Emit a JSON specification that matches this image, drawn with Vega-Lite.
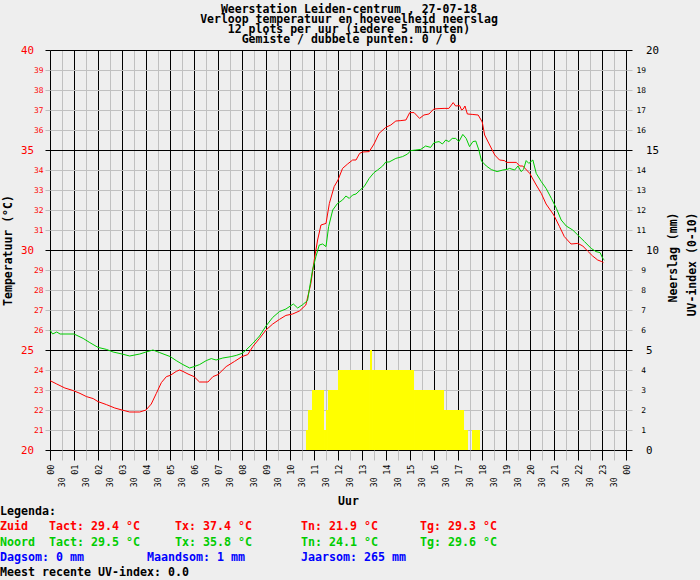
{
  "$schema": "https://vega.github.io/schema/vega-lite/v6.json",
  "background": "#eeeeee",
  "autosize": "none",
  "padding": {"left": 50, "top": 50, "right": 74, "bottom": 130},
  "width": 576,
  "height": 400,
  "title": {
    "text": ["Weerstation Leiden-centrum , 27-07-18", "Verloop temperatuur en hoeveelheid neerslag", "12 plots per uur (iedere 5 minuten)", "Gemiste / dubbele punten: 0 / 0"],
    "font": "DejaVu Sans Mono",
    "fontSize": 11.5,
    "fontWeight": "bold",
    "color": "#000000",
    "lineHeight": 10,
    "anchor": "middle",
    "offset": 0,
    "dx": 11,
    "dy": 1
  },
  "datasets": {
    "uv": [
      {"van": 10.667, "tot": 10.75, "uv": 1},
      {"van": 10.75, "tot": 10.917, "uv": 2},
      {"van": 10.917, "tot": 11.417, "uv": 3},
      {"van": 11.417, "tot": 11.5, "uv": 1},
      {"van": 11.5, "tot": 11.583, "uv": 2},
      {"van": 11.583, "tot": 12, "uv": 3},
      {"van": 12, "tot": 13.333, "uv": 4},
      {"van": 13.333, "tot": 13.417, "uv": 5},
      {"van": 13.417, "tot": 15.167, "uv": 4},
      {"van": 15.167, "tot": 16.417, "uv": 3},
      {"van": 16.417, "tot": 17.25, "uv": 2},
      {"van": 17.25, "tot": 17.417, "uv": 1},
      {"van": 17.583, "tot": 17.917, "uv": 1}
    ],
    "temp": [
      {"uur": 0.00, "temp": 23.47, "station": "Zuid"},
      {"uur": 0.28, "temp": 23.3, "station": "Zuid"},
      {"uur": 0.62, "temp": 23.1, "station": "Zuid"},
      {"uur": 0.97, "temp": 22.97, "station": "Zuid"},
      {"uur": 1.25, "temp": 22.83, "station": "Zuid"},
      {"uur": 1.52, "temp": 22.67, "station": "Zuid"},
      {"uur": 1.80, "temp": 22.57, "station": "Zuid"},
      {"uur": 2.00, "temp": 22.42, "station": "Zuid"},
      {"uur": 2.35, "temp": 22.27, "station": "Zuid"},
      {"uur": 2.70, "temp": 22.1, "station": "Zuid"},
      {"uur": 3.00, "temp": 22.0, "station": "Zuid"},
      {"uur": 3.32, "temp": 21.9, "station": "Zuid"},
      {"uur": 3.74, "temp": 21.9, "station": "Zuid"},
      {"uur": 4.00, "temp": 22.0, "station": "Zuid"},
      {"uur": 4.22, "temp": 22.3, "station": "Zuid"},
      {"uur": 4.43, "temp": 22.83, "station": "Zuid"},
      {"uur": 4.64, "temp": 23.37, "station": "Zuid"},
      {"uur": 4.85, "temp": 23.67, "station": "Zuid"},
      {"uur": 5.01, "temp": 23.73, "station": "Zuid"},
      {"uur": 5.26, "temp": 23.93, "station": "Zuid"},
      {"uur": 5.40, "temp": 24.0, "station": "Zuid"},
      {"uur": 5.54, "temp": 23.93, "station": "Zuid"},
      {"uur": 5.75, "temp": 23.8, "station": "Zuid"},
      {"uur": 6.00, "temp": 23.67, "station": "Zuid"},
      {"uur": 6.23, "temp": 23.4, "station": "Zuid"},
      {"uur": 6.58, "temp": 23.4, "station": "Zuid"},
      {"uur": 6.79, "temp": 23.67, "station": "Zuid"},
      {"uur": 7.00, "temp": 23.77, "station": "Zuid"},
      {"uur": 7.34, "temp": 24.17, "station": "Zuid"},
      {"uur": 7.69, "temp": 24.43, "station": "Zuid"},
      {"uur": 8.00, "temp": 24.67, "station": "Zuid"},
      {"uur": 8.24, "temp": 24.77, "station": "Zuid"},
      {"uur": 8.45, "temp": 25.17, "station": "Zuid"},
      {"uur": 8.73, "temp": 25.58, "station": "Zuid"},
      {"uur": 9.00, "temp": 26.0, "station": "Zuid"},
      {"uur": 9.28, "temp": 26.3, "station": "Zuid"},
      {"uur": 9.56, "temp": 26.53, "station": "Zuid"},
      {"uur": 9.83, "temp": 26.73, "station": "Zuid"},
      {"uur": 10.11, "temp": 26.8, "station": "Zuid"},
      {"uur": 10.39, "temp": 26.95, "station": "Zuid"},
      {"uur": 10.66, "temp": 27.25, "station": "Zuid"},
      {"uur": 10.87, "temp": 28.33, "station": "Zuid"},
      {"uur": 11.01, "temp": 29.5, "station": "Zuid"},
      {"uur": 11.15, "temp": 30.5, "station": "Zuid"},
      {"uur": 11.29, "temp": 31.25, "station": "Zuid"},
      {"uur": 11.50, "temp": 31.33, "station": "Zuid"},
      {"uur": 11.64, "temp": 32.33, "station": "Zuid"},
      {"uur": 11.84, "temp": 33.17, "station": "Zuid"},
      {"uur": 12.00, "temp": 33.5, "station": "Zuid"},
      {"uur": 12.19, "temp": 34.08, "station": "Zuid"},
      {"uur": 12.40, "temp": 34.3, "station": "Zuid"},
      {"uur": 12.61, "temp": 34.5, "station": "Zuid"},
      {"uur": 12.75, "temp": 34.5, "station": "Zuid"},
      {"uur": 12.90, "temp": 34.83, "station": "Zuid"},
      {"uur": 13.02, "temp": 34.9, "station": "Zuid"},
      {"uur": 13.30, "temp": 34.92, "station": "Zuid"},
      {"uur": 13.50, "temp": 35.3, "station": "Zuid"},
      {"uur": 13.71, "temp": 35.83, "station": "Zuid"},
      {"uur": 13.99, "temp": 36.13, "station": "Zuid"},
      {"uur": 14.20, "temp": 36.25, "station": "Zuid"},
      {"uur": 14.41, "temp": 36.45, "station": "Zuid"},
      {"uur": 14.62, "temp": 36.47, "station": "Zuid"},
      {"uur": 14.83, "temp": 36.5, "station": "Zuid"},
      {"uur": 14.99, "temp": 36.87, "station": "Zuid"},
      {"uur": 15.17, "temp": 36.87, "station": "Zuid"},
      {"uur": 15.40, "temp": 36.58, "station": "Zuid"},
      {"uur": 15.58, "temp": 36.75, "station": "Zuid"},
      {"uur": 15.79, "temp": 36.8, "station": "Zuid"},
      {"uur": 15.99, "temp": 37.05, "station": "Zuid"},
      {"uur": 16.21, "temp": 37.07, "station": "Zuid"},
      {"uur": 16.42, "temp": 37.08, "station": "Zuid"},
      {"uur": 16.62, "temp": 37.08, "station": "Zuid"},
      {"uur": 16.80, "temp": 37.37, "station": "Zuid"},
      {"uur": 16.90, "temp": 37.2, "station": "Zuid"},
      {"uur": 17.07, "temp": 37.22, "station": "Zuid"},
      {"uur": 17.15, "temp": 37.0, "station": "Zuid"},
      {"uur": 17.22, "temp": 37.05, "station": "Zuid"},
      {"uur": 17.29, "temp": 37.2, "station": "Zuid"},
      {"uur": 17.39, "temp": 36.8, "station": "Zuid"},
      {"uur": 17.59, "temp": 36.78, "station": "Zuid"},
      {"uur": 17.84, "temp": 36.75, "station": "Zuid"},
      {"uur": 18.01, "temp": 36.4, "station": "Zuid"},
      {"uur": 18.11, "temp": 35.75, "station": "Zuid"},
      {"uur": 18.32, "temp": 35.25, "station": "Zuid"},
      {"uur": 18.53, "temp": 34.75, "station": "Zuid"},
      {"uur": 18.73, "temp": 34.5, "station": "Zuid"},
      {"uur": 18.94, "temp": 34.47, "station": "Zuid"},
      {"uur": 19.01, "temp": 34.38, "station": "Zuid"},
      {"uur": 19.43, "temp": 34.38, "station": "Zuid"},
      {"uur": 19.57, "temp": 34.2, "station": "Zuid"},
      {"uur": 19.70, "temp": 34.2, "station": "Zuid"},
      {"uur": 19.99, "temp": 33.83, "station": "Zuid"},
      {"uur": 20.26, "temp": 33.25, "station": "Zuid"},
      {"uur": 20.47, "temp": 32.83, "station": "Zuid"},
      {"uur": 20.67, "temp": 32.3, "station": "Zuid"},
      {"uur": 20.99, "temp": 31.75, "station": "Zuid"},
      {"uur": 21.23, "temp": 31.17, "station": "Zuid"},
      {"uur": 21.43, "temp": 30.67, "station": "Zuid"},
      {"uur": 21.71, "temp": 30.3, "station": "Zuid"},
      {"uur": 21.99, "temp": 30.33, "station": "Zuid"},
      {"uur": 22.20, "temp": 30.2, "station": "Zuid"},
      {"uur": 22.40, "temp": 29.95, "station": "Zuid"},
      {"uur": 22.61, "temp": 29.7, "station": "Zuid"},
      {"uur": 22.82, "temp": 29.5, "station": "Zuid"},
      {"uur": 22.99, "temp": 29.42, "station": "Zuid"},
      {"uur": 23.06, "temp": 29.37, "station": "Zuid"},
      {"uur": 0.00, "temp": 26.0, "station": "Noord"},
      {"uur": 0.11, "temp": 25.8, "station": "Noord"},
      {"uur": 0.28, "temp": 25.9, "station": "Noord"},
      {"uur": 0.42, "temp": 25.8, "station": "Noord"},
      {"uur": 1.00, "temp": 25.8, "station": "Noord"},
      {"uur": 1.38, "temp": 25.58, "station": "Noord"},
      {"uur": 1.66, "temp": 25.37, "station": "Noord"},
      {"uur": 2.00, "temp": 25.13, "station": "Noord"},
      {"uur": 2.35, "temp": 25.03, "station": "Noord"},
      {"uur": 2.63, "temp": 24.9, "station": "Noord"},
      {"uur": 3.00, "temp": 24.8, "station": "Noord"},
      {"uur": 3.32, "temp": 24.7, "station": "Noord"},
      {"uur": 3.74, "temp": 24.8, "station": "Noord"},
      {"uur": 4.00, "temp": 24.9, "station": "Noord"},
      {"uur": 4.29, "temp": 25.0, "station": "Noord"},
      {"uur": 4.57, "temp": 24.87, "station": "Noord"},
      {"uur": 5.01, "temp": 24.67, "station": "Noord"},
      {"uur": 5.26, "temp": 24.47, "station": "Noord"},
      {"uur": 5.54, "temp": 24.27, "station": "Noord"},
      {"uur": 5.82, "temp": 24.1, "station": "Noord"},
      {"uur": 6.00, "temp": 24.17, "station": "Noord"},
      {"uur": 6.23, "temp": 24.27, "station": "Noord"},
      {"uur": 6.51, "temp": 24.47, "station": "Noord"},
      {"uur": 6.72, "temp": 24.57, "station": "Noord"},
      {"uur": 6.92, "temp": 24.5, "station": "Noord"},
      {"uur": 7.20, "temp": 24.6, "station": "Noord"},
      {"uur": 7.55, "temp": 24.67, "station": "Noord"},
      {"uur": 7.76, "temp": 24.73, "station": "Noord"},
      {"uur": 8.00, "temp": 24.83, "station": "Noord"},
      {"uur": 8.17, "temp": 25.0, "station": "Noord"},
      {"uur": 8.45, "temp": 25.33, "station": "Noord"},
      {"uur": 8.73, "temp": 25.7, "station": "Noord"},
      {"uur": 9.00, "temp": 26.2, "station": "Noord"},
      {"uur": 9.28, "temp": 26.63, "station": "Noord"},
      {"uur": 9.56, "temp": 26.92, "station": "Noord"},
      {"uur": 9.83, "temp": 27.05, "station": "Noord"},
      {"uur": 10.14, "temp": 27.3, "station": "Noord"},
      {"uur": 10.32, "temp": 27.1, "station": "Noord"},
      {"uur": 10.53, "temp": 27.27, "station": "Noord"},
      {"uur": 10.73, "temp": 27.47, "station": "Noord"},
      {"uur": 10.87, "temp": 28.5, "station": "Noord"},
      {"uur": 10.94, "temp": 29.0, "station": "Noord"},
      {"uur": 11.08, "temp": 29.67, "station": "Noord"},
      {"uur": 11.22, "temp": 30.25, "station": "Noord"},
      {"uur": 11.36, "temp": 30.3, "station": "Noord"},
      {"uur": 11.50, "temp": 30.17, "station": "Noord"},
      {"uur": 11.61, "temp": 31.17, "station": "Noord"},
      {"uur": 11.78, "temp": 32.0, "station": "Noord"},
      {"uur": 11.98, "temp": 32.33, "station": "Noord"},
      {"uur": 12.19, "temp": 32.5, "station": "Noord"},
      {"uur": 12.33, "temp": 32.7, "station": "Noord"},
      {"uur": 12.47, "temp": 32.58, "station": "Noord"},
      {"uur": 12.61, "temp": 32.75, "station": "Noord"},
      {"uur": 12.75, "temp": 32.8, "station": "Noord"},
      {"uur": 12.95, "temp": 33.03, "station": "Noord"},
      {"uur": 13.09, "temp": 33.17, "station": "Noord"},
      {"uur": 13.30, "temp": 33.58, "station": "Noord"},
      {"uur": 13.50, "temp": 33.87, "station": "Noord"},
      {"uur": 13.65, "temp": 34.0, "station": "Noord"},
      {"uur": 13.86, "temp": 34.2, "station": "Noord"},
      {"uur": 13.99, "temp": 34.4, "station": "Noord"},
      {"uur": 14.13, "temp": 34.4, "station": "Noord"},
      {"uur": 14.41, "temp": 34.58, "station": "Noord"},
      {"uur": 14.69, "temp": 34.67, "station": "Noord"},
      {"uur": 14.90, "temp": 34.8, "station": "Noord"},
      {"uur": 15.03, "temp": 34.97, "station": "Noord"},
      {"uur": 15.24, "temp": 35.0, "station": "Noord"},
      {"uur": 15.45, "temp": 35.03, "station": "Noord"},
      {"uur": 15.65, "temp": 35.2, "station": "Noord"},
      {"uur": 15.86, "temp": 35.13, "station": "Noord"},
      {"uur": 16.00, "temp": 35.37, "station": "Noord"},
      {"uur": 16.21, "temp": 35.42, "station": "Noord"},
      {"uur": 16.35, "temp": 35.3, "station": "Noord"},
      {"uur": 16.49, "temp": 35.5, "station": "Noord"},
      {"uur": 16.62, "temp": 35.42, "station": "Noord"},
      {"uur": 16.76, "temp": 35.58, "station": "Noord"},
      {"uur": 16.90, "temp": 35.58, "station": "Noord"},
      {"uur": 17.04, "temp": 35.42, "station": "Noord"},
      {"uur": 17.20, "temp": 35.78, "station": "Noord"},
      {"uur": 17.34, "temp": 35.58, "station": "Noord"},
      {"uur": 17.48, "temp": 35.17, "station": "Noord"},
      {"uur": 17.62, "temp": 35.42, "station": "Noord"},
      {"uur": 17.74, "temp": 35.45, "station": "Noord"},
      {"uur": 17.87, "temp": 35.0, "station": "Noord"},
      {"uur": 17.98, "temp": 34.45, "station": "Noord"},
      {"uur": 18.18, "temp": 34.2, "station": "Noord"},
      {"uur": 18.39, "temp": 34.02, "station": "Noord"},
      {"uur": 18.63, "temp": 33.92, "station": "Noord"},
      {"uur": 18.87, "temp": 34.0, "station": "Noord"},
      {"uur": 19.05, "temp": 34.03, "station": "Noord"},
      {"uur": 19.15, "temp": 34.08, "station": "Noord"},
      {"uur": 19.36, "temp": 34.0, "station": "Noord"},
      {"uur": 19.50, "temp": 34.2, "station": "Noord"},
      {"uur": 19.63, "temp": 33.92, "station": "Noord"},
      {"uur": 19.73, "temp": 34.03, "station": "Noord"},
      {"uur": 19.84, "temp": 34.47, "station": "Noord"},
      {"uur": 19.95, "temp": 34.33, "station": "Noord"},
      {"uur": 20.12, "temp": 34.5, "station": "Noord"},
      {"uur": 20.26, "temp": 33.83, "station": "Noord"},
      {"uur": 20.47, "temp": 33.42, "station": "Noord"},
      {"uur": 20.67, "temp": 33.08, "station": "Noord"},
      {"uur": 20.89, "temp": 32.58, "station": "Noord"},
      {"uur": 21.10, "temp": 32.08, "station": "Noord"},
      {"uur": 21.30, "temp": 31.5, "station": "Noord"},
      {"uur": 21.51, "temp": 31.2, "station": "Noord"},
      {"uur": 21.78, "temp": 31.0, "station": "Noord"},
      {"uur": 21.99, "temp": 30.75, "station": "Noord"},
      {"uur": 22.27, "temp": 30.42, "station": "Noord"},
      {"uur": 22.55, "temp": 30.08, "station": "Noord"},
      {"uur": 22.75, "temp": 29.92, "station": "Noord"},
      {"uur": 22.92, "temp": 29.87, "station": "Noord"},
      {"uur": 23.03, "temp": 29.58, "station": "Noord"},
      {"uur": 23.10, "temp": 29.5, "station": "Noord"}
    ],
    "legenda": [
      {"regel": 0, "tekst": "Legenda:", "groep": "Legenda"},
      {"regel": 1, "tekst": "Zuid\u00a0\u00a0\u00a0Tact: 29.4 °C\u00a0\u00a0\u00a0\u00a0\u00a0Tx: 37.4 °C\u00a0\u00a0\u00a0\u00a0\u00a0\u00a0\u00a0Tn: 21.9 °C\u00a0\u00a0\u00a0\u00a0\u00a0\u00a0Tg: 29.3 °C", "groep": "Zuid"},
      {"regel": 2, "tekst": "Noord\u00a0\u00a0Tact: 29.5 °C\u00a0\u00a0\u00a0\u00a0\u00a0Tx: 35.8 °C\u00a0\u00a0\u00a0\u00a0\u00a0\u00a0\u00a0Tn: 24.1 °C\u00a0\u00a0\u00a0\u00a0\u00a0\u00a0Tg: 29.6 °C", "groep": "Noord"},
      {"regel": 3, "tekst": "Dagsom: 0 mm\u00a0\u00a0\u00a0\u00a0\u00a0\u00a0\u00a0\u00a0\u00a0Maandsom: 1 mm\u00a0\u00a0\u00a0\u00a0\u00a0\u00a0\u00a0\u00a0Jaarsom: 265 mm", "groep": "Neerslag"},
      {"regel": 4, "tekst": "Meest recente UV-index: 0.0", "groep": "Legenda"}
    ]
  },
  "layer": [
    {
      "data": {"name": "uv"},
      "mark": {"type": "rect", "color": "#ffff00"},
      "encoding": {
        "x": {
          "field": "van",
          "type": "quantitative",
          "scale": {"domain": [0, 24], "nice": false, "zero": false},
          "axis": {
            "orient": "bottom",
            "values": [0.5, 1.5, 2.5, 3.5, 4.5, 5.5, 6.5, 7.5, 8.5, 9.5, 10.5, 11.5, 12.5, 13.5, 14.5, 15.5, 16.5, 17.5, 18.5, 19.5, 20.5, 21.5, 22.5, 23.5],
            "labelExpr": "'30'",
            "labelAngle": 270,
            "labelFont": "DejaVu Sans Mono",
            "labelFontSize": 8,
            "labelColor": "#000000",
            "labelPadding": 17,
            "labelFlush": false,
            "labelOverlap": false,
            "tickSize": 10,
            "tickColor": "#c0c0c0",
            "grid": true,
            "gridColor": "#c0c0c0",
            "gridOpacity": 1,
            "domain": false,
            "title": null
          }
        },
        "x2": {"field": "tot"},
        "y": {
          "field": "uv",
          "type": "quantitative",
          "scale": {"domain": [0, 20], "nice": false},
          "axis": {
            "orient": "right",
            "values": [0, 1, 2, 3, 4, 5, 6, 7, 8, 9, 10, 11, 12, 13, 14, 15, 16, 17, 18, 19, 20],
            "labelColor": "#000000",
            "labelFont": "DejaVu Sans Mono",
            "labelFontSize": {"condition": {"test": "datum.value % 5 === 0", "value": 10.8}, "value": 7.9},
            "labelAlign": {"condition": {"test": "datum.value % 5 === 0", "value": "left"}, "value": "right"},
            "labelBaseline": "middle",
            "labelPadding": 13.5,
            "labelFlush": false,
            "labelOverlap": false,
            "tickSize": 6,
            "tickColor": {"condition": {"test": "datum.value % 5 === 0", "value": "#000000"}, "value": "#c0c0c0"},
            "grid": false,
            "domain": false,
            "title": ["Neerslag (mm)", "UV-index (0-10)"],
            "titleFont": "DejaVu Sans Mono",
            "titleFontSize": 11.5,
            "titleFontWeight": "bold",
            "titleColor": "#000000",
            "titleAngle": 270,
            "titleLineHeight": 19.5,
            "titleAlign": "right",
            "titleBaseline": "middle",
            "titleX": 47,
            "titleY": 162
          }
        },
        "y2": {"datum": 0}
      }
    },
    {
      "data": {"name": "temp"},
      "mark": {"type": "line", "strokeWidth": 1, "interpolate": "linear"},
      "encoding": {
        "x": {
          "field": "uur",
          "type": "quantitative",
          "scale": {"domain": [0, 24], "nice": false, "zero": false},
          "axis": {
            "orient": "bottom",
            "values": [0, 1, 2, 3, 4, 5, 6, 7, 8, 9, 10, 11, 12, 13, 14, 15, 16, 17, 18, 19, 20, 21, 22, 23, 24],
            "labelExpr": "datum.value == 24 ? '00' : (datum.value < 10 ? '0' : '') + datum.value",
            "labelAngle": 270,
            "labelFont": "DejaVu Sans Mono",
            "labelFontSize": 8.5,
            "labelColor": "#000000",
            "labelPadding": 4,
            "labelFlush": false,
            "labelOverlap": false,
            "tickSize": 10,
            "tickColor": "#000000",
            "grid": true,
            "gridColor": "#000000",
            "gridOpacity": 1,
            "domain": false,
            "title": "Uur",
            "titleFont": "DejaVu Sans Mono",
            "titleFontSize": 11.5,
            "titleFontWeight": "bold",
            "titleColor": "#000000",
            "titleAlign": "center",
            "titleBaseline": "middle",
            "titleX": 298,
            "titleY": 51
          }
        },
        "y": {
          "field": "temp",
          "type": "quantitative",
          "scale": {"domain": [20, 40], "nice": false, "zero": false},
          "axis": {
            "orient": "left",
            "values": [20, 21, 22, 23, 24, 25, 26, 27, 28, 29, 30, 31, 32, 33, 34, 35, 36, 37, 38, 39, 40],
            "labelColor": "#ff0000",
            "labelFont": "DejaVu Sans Mono",
            "labelFontSize": {"condition": {"test": "datum.value % 5 === 0", "value": 10.8}, "value": 7.9},
            "labelAlign": {"condition": {"test": "datum.value % 5 === 0", "value": "right"}, "value": "left"},
            "labelBaseline": "middle",
            "labelPadding": 11.5,
            "labelFlush": false,
            "labelOverlap": false,
            "tickSize": 5,
            "tickColor": {"condition": {"test": "datum.value % 5 === 0", "value": "#000000"}, "value": "#c0c0c0"},
            "grid": true,
            "gridColor": {"condition": {"test": "datum.value % 5 === 0", "value": "#000000"}, "value": "#c0c0c0"},
            "gridOpacity": 1,
            "domain": false,
            "title": "Temperatuur (°C)",
            "titleFont": "DejaVu Sans Mono",
            "titleFontSize": 11.5,
            "titleFontWeight": "bold",
            "titleColor": "#000000",
            "titleAngle": 270,
            "titleAlign": "center",
            "titleBaseline": "middle",
            "titleX": -42,
            "titleY": 200
          }
        },
        "color": {
          "field": "station",
          "type": "nominal",
          "scale": {"domain": ["Zuid", "Noord", "Neerslag", "Legenda"], "range": ["#ff0000", "#00cc00", "#0000ff", "#000000"]},
          "legend": null
        }
      }
    },
    {
      "data": {"name": "legenda"},
      "mark": {"type": "text", "align": "left", "baseline": "middle", "font": "DejaVu Sans Mono", "fontSize": 11.63, "fontWeight": "bold"},
      "encoding": {
        "x": {"datum": -2.0833, "type": "quantitative", "axis": null},
        "y": {
          "field": "regel",
          "type": "ordinal",
          "scale": {"type": "point", "range": [462, 523], "padding": 0},
          "axis": null
        },
        "text": {"field": "tekst"},
        "color": {
          "field": "groep",
          "type": "nominal",
          "scale": {"domain": ["Zuid", "Noord", "Neerslag", "Legenda"], "range": ["#ff0000", "#00cc00", "#0000ff", "#000000"]},
          "legend": null
        }
      }
    }
  ],
  "resolve": {
    "scale": {"y": "independent"},
    "axis": {"x": "independent", "y": "independent"}
  },
  "config": {
    "view": {"stroke": null}
  }
}
